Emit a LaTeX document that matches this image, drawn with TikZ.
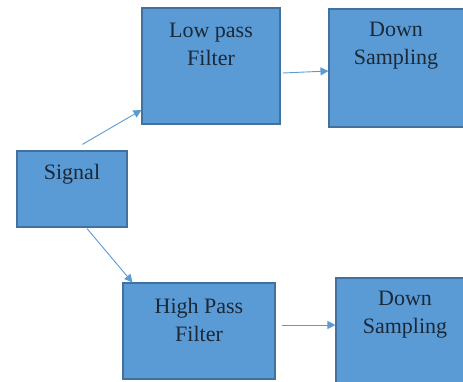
\documentclass[tikz,border=0pt]{standalone}
\usepackage{fontspec}
\setmainfont{Liberation Serif}
\newfontfamily\boxfont{Liberation Serif}
\usetikzlibrary{arrows.meta}
\definecolor{boxfill}{HTML}{5B9BD5}
\definecolor{boxline}{HTML}{41719C}
\definecolor{arrcol}{HTML}{5B9BD5}
\definecolor{txtcol}{HTML}{1A2838}
\tikzset{
  blk/.style={draw=boxline, line width=1.1pt, fill=boxfill, inner sep=0pt, anchor=center},
  lbl/.style={text=txtcol, font=\boxfont\fontsize{22}{27.5}\selectfont, align=center, anchor=base, inner sep=0pt},
  arr/.style={draw=arrcol, line width=0.9pt, -{Triangle[length=8pt,width=8pt]}}
}
\begin{document}
\begin{tikzpicture}[x=1pt,y=-1pt]
\useasboundingbox (0,0) rectangle (463,381);
\clip (0,0) rectangle (463,381);
\node[blk, minimum width=110pt, minimum height=76pt] (sig) at (72,189) {};
\node[blk, minimum width=138pt, minimum height=116pt] (lpf) at (211,66) {};
\node[blk, minimum width=150pt, minimum height=118pt] (ds1) at (404,68) {};
\node[blk, minimum width=152pt, minimum height=96pt] (hpf) at (199,331) {};
\node[blk, minimum width=144pt, minimum height=118pt] (ds2) at (408,337) {};
\node[lbl] (tsig) at ([yshift=-29pt]sig.north) {Signal};
\node[lbl] (tlpf) at ([yshift=-58pt]lpf.north) {Low pass\\Filter};
\node[lbl] (tds1) at ([xshift=-8pt,yshift=-56pt]ds1.north) {Down\\Sampling};
\node[lbl] (thpf) at ([yshift=-59pt]hpf.north) {High Pass\\Filter};
\node[lbl] (tds2) at ([xshift=-3pt,yshift=-56pt]ds2.north) {Down\\Sampling};
\draw[arr, shorten <=12pt] (sig.north) -- ([yshift=-44pt]lpf.west);
\draw[arr] ([xshift=2pt,yshift=-7pt]lpf.east) -- ([yshift=-3pt]ds1.west);
\draw[arr] ([xshift=15pt,yshift=-1pt]sig.south) -- ([xshift=10pt]hpf.north west);
\draw[arr] ([shift={(6pt,6pt)}]hpf.east) coordinate (h1) -- (h1 -| ds2.west);
\end{tikzpicture}
\end{document}
